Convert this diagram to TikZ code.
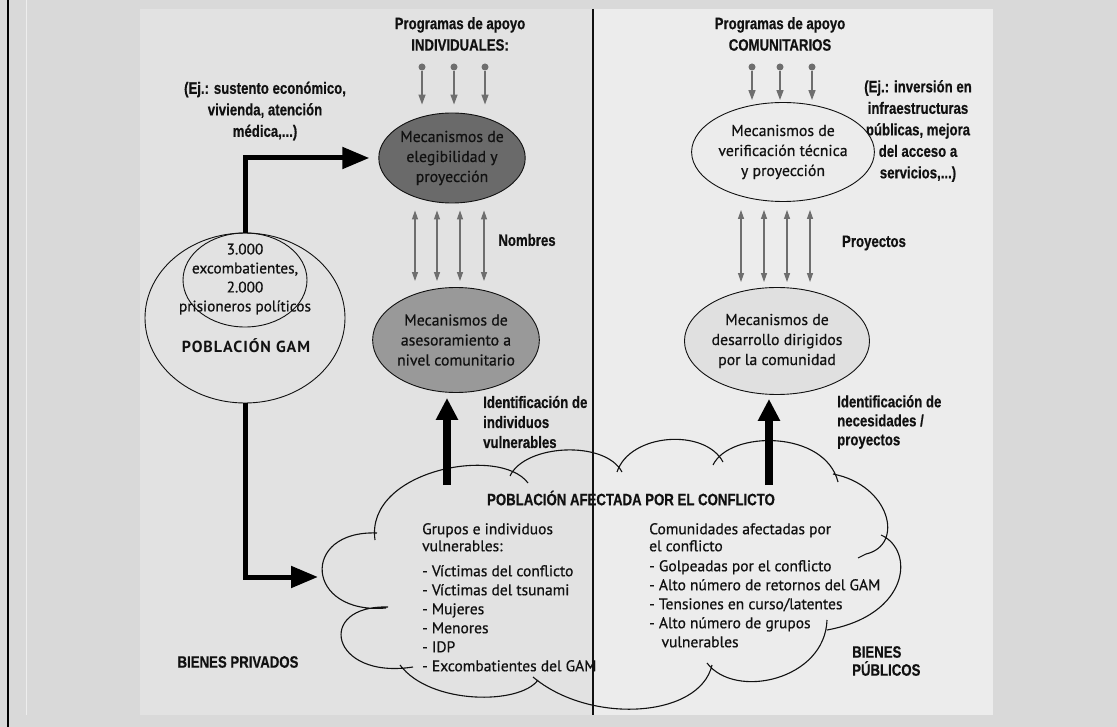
\documentclass[tikz,border=0pt]{standalone}
\usepackage{fontspec}
\setmainfont[FakeBold=0.6]{PT Sans}
\newfontfamily\condfont[FakeStretch=0.8,FakeBold=0.5]{Liberation Sans}
\newfontfamily\spacedfont[LetterSpace=6]{PT Sans}
\usepackage{xcolor}
\usetikzlibrary{positioning, arrows.meta, shapes}

\definecolor{bgout}{HTML}{D9D9D9}
\definecolor{bgleft}{HTML}{E2E2E2}
\definecolor{bgright}{HTML}{ECECEC}
\definecolor{darkell}{HTML}{6A6A6A}
\definecolor{midell}{HTML}{999999}
\definecolor{lightell}{HTML}{E0E0E0}
\definecolor{arrgray}{HTML}{6E6E6E}
\definecolor{ink}{HTML}{111111}

\tikzset{
  mechnode/.style={ellipse, draw=ink, line width=0.9pt, inner sep=0pt, align=center, text=ink, font=\fontsize{15.8}{20}\selectfont},
  headtxt/.style={align=center, text=ink, inner sep=0pt, font=\condfont\bfseries\fontsize{16.5}{21.5}\selectfont},
  bodytxt/.style={align=left, text=ink, inner sep=0pt, font=\fontsize{15.5}{19}\selectfont},
  srcdot/.style={circle, fill=arrgray, inner sep=0pt, minimum size=7pt},
  feedarrow/.style={draw=arrgray, line width=1.4pt, -{Triangle[length=10pt,width=7pt]}},
  linkarrow/.style={draw=arrgray, line width=1.2pt, {Triangle[length=9pt,width=6pt]}-{Triangle[length=9pt,width=6pt]}},
  gamarrow/.style={line width=5pt, -{Triangle[length=27pt,width=21pt]}},
  bigarrow/.style={line width=8pt, -{Triangle[length=22pt,width=21pt]}}
}

\begin{document}
\begin{tikzpicture}[x=1pt, y=-1pt]
\fill[bgout] (0,0) rectangle (1117,727);
\useasboundingbox (0,0) rectangle (1117,727);
\fill[bgleft] (140,9) rectangle (593,715);
\fill[bgright] (593,9) rectangle (993,715);
\draw[black, line width=2.5pt] (8,0) -- (8,727);
\draw[white!55!bgout, line width=1pt] (26,0) -- (26,715);
\draw[ink, line width=1.1pt] (593,9) -- (593,715);

\node[headtxt] (progI) at (460,34) {Programas de apoyo\\INDIVIDUALES:};
\node[headtxt] (progC) at (780,34) {Programas de apoyo\\COMUNITARIOS};
\node[headtxt] (ejI) at (265,111) {(Ej.: sustento económico,\\vivienda, atención\\médica,...)};
\node[headtxt] (ejC) at (918,131) {(Ej.: inversión en\\infraestructuras\\públicas, mejora\\del acceso a\\servicios,...)};

\node[mechnode, fill=darkell, minimum width=139pt, minimum height=90pt] (elig) at (452,158) {Mecanismos de\\elegibilidad y\\proyección};
\node[mechnode, fill=midell, minimum width=162pt, minimum height=105pt] (ases) at (456,340) {Mecanismos de\\asesoramiento a\\nivel comunitario};
\node[mechnode, fill=bgright, minimum width=143pt, minimum height=99pt] (verif) at (783,152) {Mecanismos de\\verificación técnica\\y proyección};
\node[mechnode, fill=lightell, minimum width=161pt, minimum height=107pt] (desa) at (777,341) {Mecanismos de\\desarrollo dirigidos\\por la comunidad};

\node[headtxt] (nombres) at (527,240) {Nombres};
\node[headtxt] (proyectos) at (874,243) {Proyectos};
\node[headtxt, anchor=west, align=left, font=\condfont\bfseries\fontsize{16.5}{20}\selectfont] (idI) at (483,422) {Identificación de\\individuos\\vulnerables};
\node[headtxt, anchor=west, align=left, font=\condfont\bfseries\fontsize{16.5}{19}\selectfont] (idC) at (837,422) {Identificación de\\necesidades /\\proyectos};

\node[ellipse, draw=ink, line width=0.9pt, minimum width=200pt, minimum height=170pt] (gam) at (245,318) {};
\node[ellipse, draw=ink, line width=0.9pt, minimum width=124pt, minimum height=94pt] (gamin) at (245,280) {};
\node[align=center, text=ink, inner sep=0pt, font=\fontsize{15.3}{19}\selectfont] (gamtxt) at (245,279) {3.000\\excombatientes,\\2.000\\prisioneros políticos};
\node[text=ink, inner sep=0pt, font=\spacedfont\bfseries\fontsize{16}{19}\selectfont] (gamlbl) at (246,346) {POBLACIÓN GAM};

\foreach \x [count=\i] in {422,454,485} {
  \node[srcdot] (dI\i) at (\x,67) {};
  \draw[feedarrow, shorten >=8pt] (dI\i) -- (dI\i |- elig.north);
}
\foreach \x [count=\i] in {752,780,812} {
  \node[srcdot] (dC\i) at (\x,67) {};
  \draw[feedarrow, shorten >=2pt] (dC\i) -- (dC\i |- verif.north);
}
\foreach \x in {415,437,460,484}
  \draw[linkarrow, shorten <=7pt, shorten >=6pt] (\x,0 |- elig.south) -- (\x,0 |- ases.north);
\foreach \x in {741,764,787,810}
  \draw[linkarrow, shorten <=8pt, shorten >=5pt] (\x,0 |- verif.south) -- (\x,0 |- desa.north);

\draw[ink, line width=1.1pt]
  (375,540) .. controls (365,470) and (500,445) .. (528,483)
  (510,476) .. controls (525,444) and (605,440) .. (622,472)
  (617,472) .. controls (630,433) and (705,428) .. (723,462)
  (713,465) .. controls (730,430) and (825,430) .. (838,482)
  (833,474) .. controls (890,485) and (905,545) .. (866,554) -- (858,558)
  (881,535) .. controls (915,550) and (910,615) .. (827,630)
  (827,620) .. controls (825,680) and (735,700) .. (707,663)
  (712,665) .. controls (700,718) and (590,725) .. (533,677)
  (538,680) .. controls (520,705) and (430,705) .. (400,665)
  (413,667) .. controls (330,680) and (315,605) .. (388,607)
  (386,608) .. controls (305,615) and (300,530) .. (377,533);

\coordinate (cloudW) at (318,577);
\coordinate (cloudI) at (447,485);
\coordinate (cloudC) at (769,485);
\draw[gamarrow, shorten >=9pt] (gam.north) |- (elig.west);
\draw[gamarrow] (gam.south) |- (cloudW);
\draw[bigarrow, shorten >=5pt] (cloudI) -- (cloudI |- ases.south);
\draw[bigarrow, shorten >=4pt] (cloudC) -- (cloudC |- desa.south);

\node[headtxt] (pobaf) at (631,498) {POBLACIÓN AFECTADA POR EL CONFLICTO};
\node[bodytxt, anchor=north west] (grupos) at (422,523) {Grupos e individuos\\[-2pt]vulnerables:\\[6pt]- Víctimas del conflicto\\- Víctimas del tsunami\\- Mujeres\\- Menores\\- IDP\\- Excombatientes del GAM};
\node[bodytxt, anchor=north west] (comun) at (649,523) {Comunidades afectadas por\\[-2pt]el conflicto\\[1pt]- Golpeadas por el conflicto\\- Alto número de retornos del GAM\\- Tensiones en curso/latentes\\- Alto número de grupos\\\hspace*{0.8em}vulnerables};
\node[headtxt] (bpriv) at (238,662) {BIENES PRIVADOS};
\node[headtxt, anchor=west, align=left, font=\condfont\bfseries\fontsize{16.5}{18}\selectfont] (bpub) at (852,661) {BIENES\\PÚBLICOS};
\end{tikzpicture}
\end{document}
